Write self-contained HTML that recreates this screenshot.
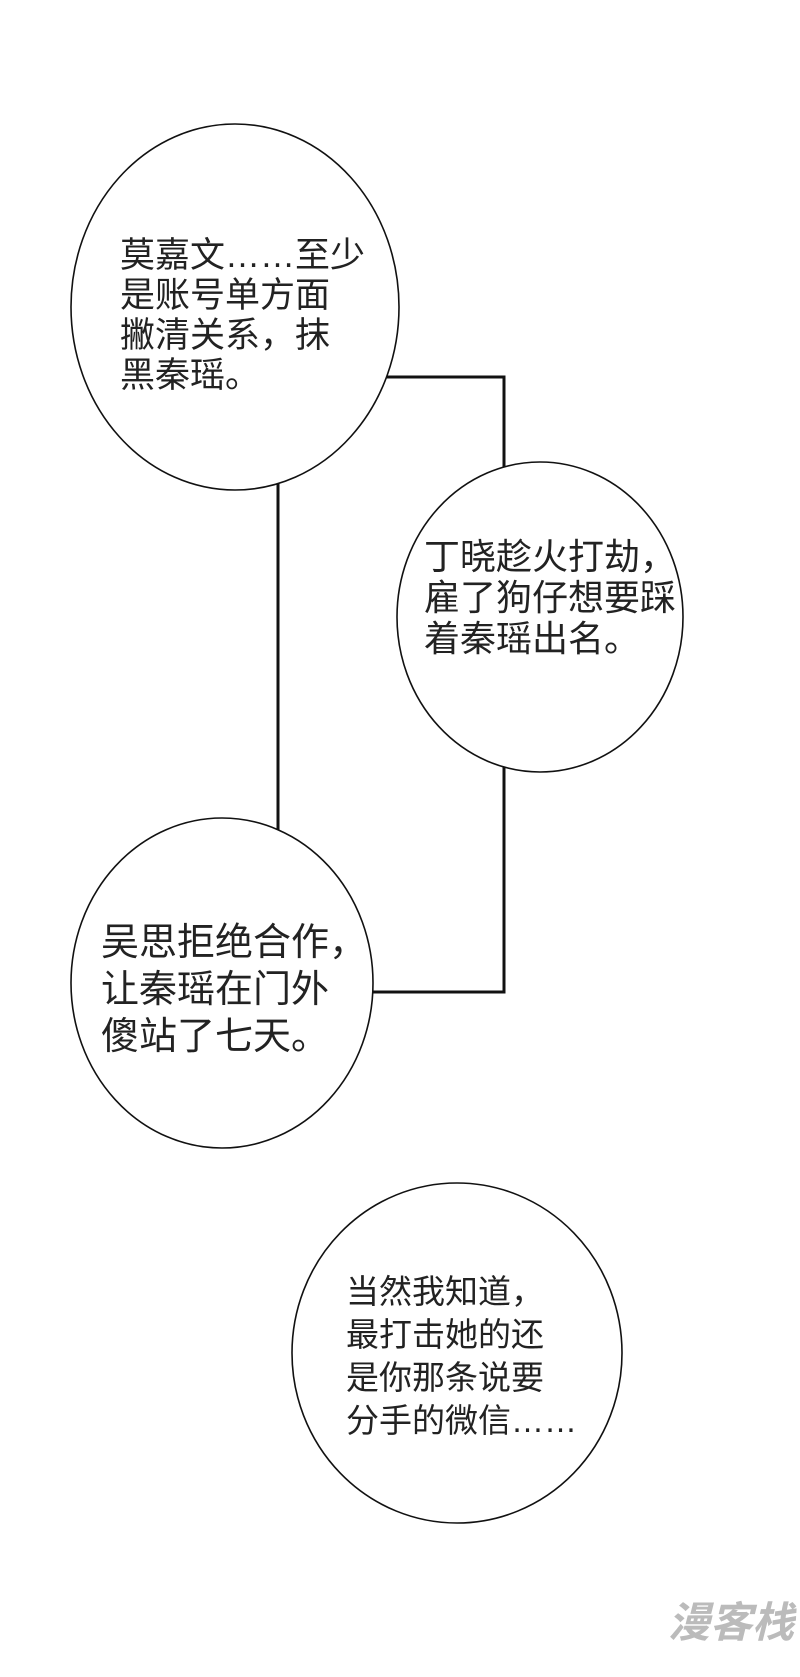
<!DOCTYPE html>
<html><head><meta charset="utf-8"><style>
html,body{margin:0;padding:0;background:#fff;}
body{width:800px;height:1677px;position:relative;overflow:hidden;font-family:"Liberation Sans","Noto Sans CJK SC",sans-serif;color:#222;}
.t{position:absolute;white-space:nowrap;font-size:31px;line-height:39px;}
svg{position:absolute;left:0;top:0;}
</style></head><body>
<svg width="800" height="1677">
<g fill="none" stroke="#111" stroke-width="3">
<polyline points="380,377 504,377 504,992 370,992"/>
<line x1="278" y1="480" x2="278" y2="835"/>
</g>
<g fill="#fff" stroke="#111" stroke-width="1.6">
<ellipse cx="235" cy="307" rx="164" ry="183"/>
<ellipse cx="540" cy="617" rx="143" ry="155"/>
<ellipse cx="222" cy="983" rx="151" ry="165"/>
<ellipse cx="457" cy="1353" rx="165" ry="170"/>
</g>
</svg>
<div class="t" style="left:120px;top:236px;font-size:35px;line-height:40px;">莫嘉文……至少<br>是账号单方面<br>撇清关系，抹<br>黑秦瑶。</div>
<div class="t" style="left:424px;top:536px;font-size:36px;line-height:41px;">丁晓趁火打劫，<br>雇了狗仔想要踩<br>着秦瑶出名。</div>
<div class="t" style="left:101px;top:920px;font-size:38px;line-height:47px;">吴思拒绝合作，<br>让秦瑶在门外<br>傻站了七天。</div>
<div class="t" style="left:346px;top:1270px;font-size:33px;line-height:43px;">当然我知道，<br>最打击她的还<br>是你那条说要<br>分手的微信……</div>
<div class="t" style="left:668px;top:1598px;font-size:42px;line-height:50px;color:#bbb;font-weight:bold;font-style:italic;">漫客栈</div>
</body></html>
